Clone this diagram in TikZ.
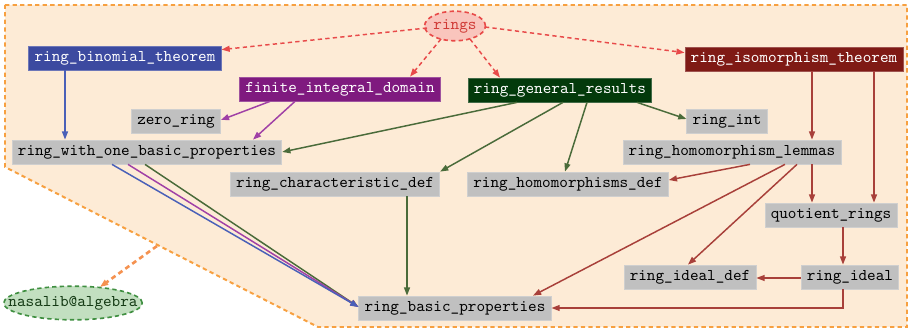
\documentclass[tikz,border=0pt]{standalone}
\usepackage{fontspec}
\usetikzlibrary{arrows.meta,calc,shapes.geometric}
\definecolor{clfill}{HTML}{FDEBD6}
\definecolor{clline}{HTML}{F7A040}
\definecolor{orarrow}{HTML}{F59250}
\definecolor{ringsfill}{HTML}{F9C5BD}
\definecolor{ringsline}{HTML}{E84A48}
\definecolor{ringstext}{HTML}{D03A36}
\definecolor{nasfill}{HTML}{C2DFC0}
\definecolor{nasline}{HTML}{3F8F40}
\definecolor{nastext}{HTML}{143A14}
\definecolor{gbox}{HTML}{C0C0C0}
\definecolor{gboxline}{HTML}{CFCFCF}
\definecolor{blueN}{HTML}{3C4AA0}
\definecolor{purpleN}{HTML}{7F1A7F}
\definecolor{greenN}{HTML}{033A0B}
\definecolor{redN}{HTML}{7F1A15}
\definecolor{blueE}{HTML}{4A60B8}
\definecolor{purpleE}{HTML}{A040A6}
\definecolor{greenE}{HTML}{4A6B3A}
\definecolor{redE}{HTML}{A8403A}
\definecolor{ringsE}{HTML}{E84A4A}
\begin{document}
\begin{tikzpicture}[x=0.61pt,y=-0.61pt,
  box/.style={rectangle, line width=0.5pt, inner xsep=3.5pt, inner ysep=0pt,
    minimum height=14.6pt, text height=6.6pt, text depth=1.9pt, font=\ttfamily},
  graybox/.style={box, fill=gbox, draw=gboxline, text=black},
  bluebox/.style={box, fill=blueN, draw=blueN!75!white, text=white},
  purplebox/.style={box, fill=purpleN, draw=purpleN!75!white, text=white},
  greenbox/.style={box, fill=greenN, draw=greenN!75!white, text=white},
  redbox/.style={box, fill=redN, draw=redN!75!white, text=white},
  tip/.style={-{Triangle[length=5pt,width=3.6pt]}},
  edge/.style={tip, line width=0.9pt},
  dedge/.style={edge, color=ringsE, dash pattern=on 2.6pt off 2pt},
  bedge/.style={edge, color=blueE},
  pedge/.style={edge, color=purpleE},
  gedge/.style={edge, color=greenE},
  redge/.style={edge, color=redE},
]
\useasboundingbox (0,0) rectangle (910,333);
% cluster
\draw[fill=clfill, draw=clline, line width=1.2pt, dash pattern=on 2.6pt off 2pt]
  (5,5) -- (907,5) -- (907,327) -- (318,327) -- (5,167) -- cycle;
\coordinate (clpt) at (157,246);
% nodes
\node[ellipse, fill=ringsfill, draw=ringsline, line width=1pt, dash pattern=on 2.6pt off 2pt,
  minimum width=37pt, minimum height=18pt, inner sep=0pt, text=ringstext, font=\ttfamily] (rings) at (455,26) {rings};
\node[bluebox] (rbt) at (125,58) {ring\_binomial\_theorem};
\node[purplebox] (fid) at (340,89) {finite\_integral\_domain};
\node[greenbox] (rgr) at (560,90) {ring\_general\_results};
\node[redbox] (rit) at (794,59) {ring\_isomorphism\_theorem};
\node[graybox] (zr) at (176,121) {zero\_ring};
\node[graybox] (rint) at (727,121) {ring\_int};
\node[graybox] (rwo) at (147,152) {ring\_with\_one\_basic\_properties};
\node[graybox] (rhl) at (732,152) {ring\_homomorphism\_lemmas};
\node[graybox] (rcd) at (335,184) {ring\_characteristic\_def};
\node[graybox] (rhd) at (568,184) {ring\_homomorphisms\_def};
\node[graybox] (qr) at (831,215) {quotient\_rings};
\node[graybox] (ridd) at (690,277) {ring\_ideal\_def};
\node[graybox] (ri) at (850,277) {ring\_ideal};
\node[graybox] (rbp) at (455,308) {ring\_basic\_properties};
\node[ellipse, fill=nasfill, draw=nasline, line width=1pt, dash pattern=on 2.6pt off 2pt,
  minimum height=20.5pt, inner xsep=-9.5pt, inner ysep=0pt, text=nastext, font=\ttfamily] (nas) at (73,303) {nasalib@algebra};
% edges from rings
\draw[dedge] ($(rings.center)+(-28,2)$) -- ($(rbt.north east)+(0,4)$);
\draw[dedge] ($(rings.center)+(-14,13)$) -- ($(fid.north)+(70,0)$);
\draw[dedge] ($(rings.center)+(15,13)$) -- ($(rgr.north)+(-60,0)$);
\draw[dedge] ($(rings.center)+(30,1)$) -- ($(rit.north west)+(0,6)$);
% blue / purple
\draw[bedge] ($(rbt.south)+(-60,0)$) -- ($(rwo.north)+(-82,0)$);
\draw[pedge] ($(fid.south)+(-70,0)$) -- ($(zr.east)+(0,-1)$);
\draw[pedge] ($(fid.south)+(-45,0)$) -- ($(rwo.north)+(106,0)$);
% green
\draw[gedge] ($(rgr.south)+(-43,0)$) -- (rwo.east);
\draw[gedge] ($(rgr.south)+(3,0)$) -- (rcd.north east);
\draw[gedge] ($(rgr.south)+(27,0)$) -- ($(rhd.north)+(-3,0)$);
\draw[gedge] ($(rgr.south)+(77,0)$) -- ($(rint.west)+(0,-2)$);
\draw[gedge] ($(rcd.south)+(72,0)$) -- ($(rbp.north)+(-48,0)$);
% three to ring_basic_properties
\draw[gedge] ($(rwo.south)+(-2,0)$) -- ($(rbp.west)+(0,-1)$);
\draw[pedge] ($(rwo.south)+(-19,0)$) -- ($(rbp.west)+(0,-1)$);
\draw[bedge] ($(rwo.south)+(-35,0)$) -- ($(rbp.west)+(0,-1)$);
% red
\draw[redge] ($(rit.south)+(18,0)$) -- ($(rhl.north)+(80,0)$);
\draw[redge] ($(rit.south)+(80,0)$) -- ($(qr.north)+(43,0)$);
\draw[redge] ($(rhl.south)+(18,0)$) -- ($(rhd.east)+(0,-4)$);
\draw[redge] ($(rhl.south)+(53,0)$) -- ($(rbp.north)+(78,0)$);
\draw[redge] ($(rhl.south)+(65,0)$) -- ($(ridd.north)+(-2,0)$);
\draw[redge] ($(rhl.south)+(80,0)$) -- ($(qr.north)+(-19,0)$);
\draw[redge] ($(qr.south)+(12,0)$) -- ($(ri.north)+(-7,0)$);
\draw[redge] ($(ri.west)+(0,1)$) -- ($(ridd.east)+(0,1)$);
\draw[redge] ($(ri.south)+(-7,0)$) |- (rbp.east);
% cluster to nasalib
\draw[tip, color=orarrow, line width=1.6pt, dash pattern=on 3pt off 2.2pt] (clpt) -- ($(nas.center)+(27,-16)$);
\end{tikzpicture}
\end{document}
